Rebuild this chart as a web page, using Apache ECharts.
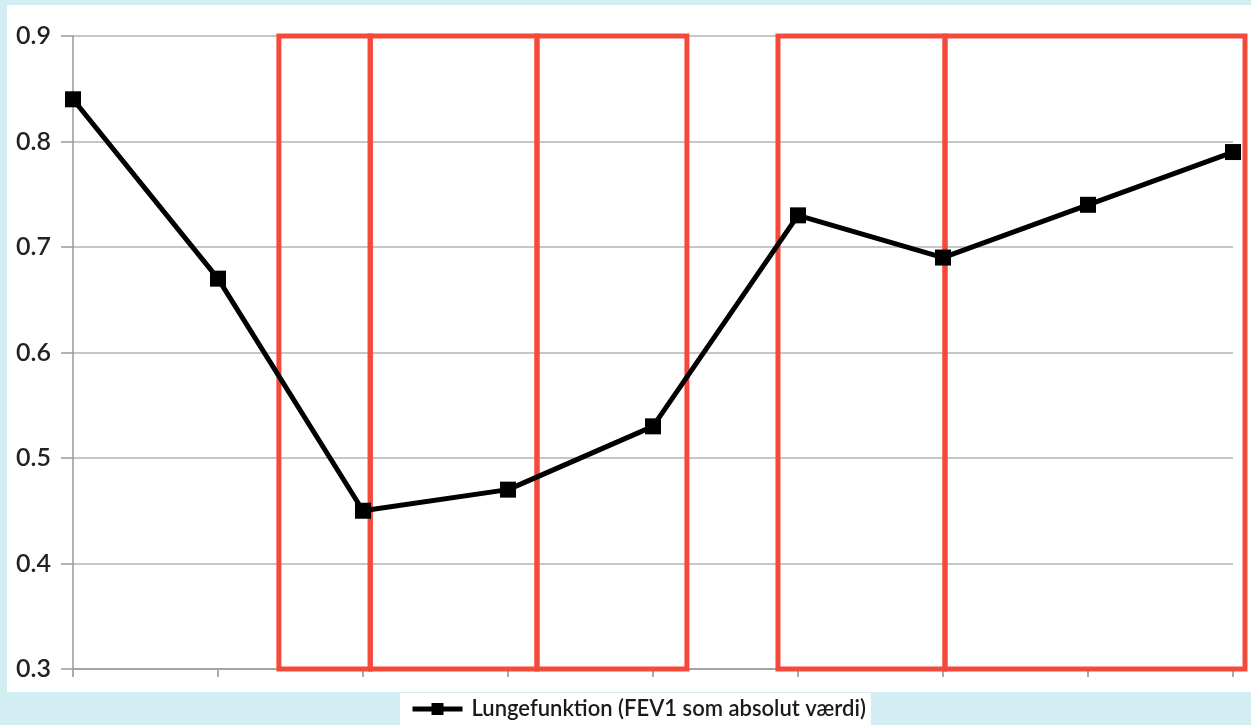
<!DOCTYPE html>
<html>
<head>
<meta charset="utf-8">
<script src="https://cdn.jsdelivr.net/npm/echarts@6/dist/echarts.min.js"></script>
<style>
	html, body { margin: 0; padding: 0; background: #d3eef2; }
	#panel { position: absolute; left: 7px; top: 5px; width: 1244px; height: 687px; background: #fff; }
	#chart { position: absolute; left: 0; top: 0; width: 1251px; height: 725px; }
</style>
</head>
<body>
<div id="panel"></div>
<div id="chart"></div>
<script>
var categories = ['1', '2', '3', '4', '5', '6', '7', '8', '9'];
var fev1 = [0.84, 0.67, 0.45, 0.47, 0.53, 0.73, 0.69, 0.74, 0.79];
var seriesName = 'Lungefunktion (FEV1 som absolut værdi)';
// røde markeringsbokse, i enheder af punktnummer (0 = første punkt)
var boxes = [[1.42, 2.05], [2.05, 3.2], [3.2, 4.234], [4.862, 6.014], [6.014, 8.083]];

var chart = echarts.init(document.getElementById('chart'));

var option = {
	animation: false,
	textStyle: { fontFamily: 'Lato' },
	// grid 1 til selve kurven, grid 2 (lidt bredere) til de røde bokse
	grid: [
		{ left: 73, right: 18, top: 36, bottom: 56 },
		{ left: 73, right: 6, top: 36, bottom: 56 }
	],
	legend: {
		bottom: 0,
		left: 400,
		backgroundColor: '#fff',
		padding: [5, 5, 5, 10],
		itemWidth: 50,
		itemHeight: 15,
		itemGap: 8,
		lineStyle: { width: 5 },
		textStyle: { fontSize: 22, color: '#1a1a1a', fontFamily: 'Lato', fontWeight: 600, padding: [0, 0, 0, 4] },
		data: [seriesName]
	},
	xAxis: [{
		type: 'category',
		gridIndex: 0,
		data: categories,
		boundaryGap: false,
		axisLine: { lineStyle: { color: '#999', width: 1.5 } },
		axisTick: { show: true, length: 8, lineStyle: { color: '#aaa', width: 2 } },
		axisLabel: { show: false }
	}, {
		type: 'value',
		gridIndex: 1,
		min: 0,
		max: 8.083,
		show: false
	}],
	yAxis: [{
		type: 'value',
		gridIndex: 0,
		min: 0.3,
		max: 0.9,
		interval: 0.1,
		axisLine: { show: true, lineStyle: { color: '#999', width: 1.5 } },
		axisTick: { show: true, length: 12, lineStyle: { color: '#999', width: 1.5 } },
		axisLabel: {
			margin: 22,
			fontSize: 25,
			fontWeight: 600,
			color: '#222',
			formatter: function (v) { return v.toFixed(1); }
		},
		splitLine: { lineStyle: { color: '#b3b3b3', width: 1.5 } }
	}, {
		type: 'value',
		gridIndex: 1,
		min: 0.3,
		max: 0.9,
		show: false
	}],
	series: [{
		name: seriesName,
		type: 'line',
		data: fev1,
		symbol: 'rect',
		symbolSize: 16,
		itemStyle: { color: '#000' },
		lineStyle: { color: '#000', width: 5 }
	}, {
		type: 'line',
		xAxisIndex: 1,
		yAxisIndex: 1,
		data: [],
		silent: true,
		clip: false,
		z: 10,
		markArea: {
			silent: true,
			itemStyle: { color: 'rgba(0,0,0,0)', borderColor: '#f44a3c', borderWidth: 5 },
			data: boxes.map(function (b) {
				return [{ xAxis: b[0], yAxis: 0.9 }, { xAxis: b[1], yAxis: 0.3 }];
			})
		}
	}]
};
chart.setOption(option);

window.addEventListener('resize', function () {
	chart.resize();
});
</script>
</body>
</html>
